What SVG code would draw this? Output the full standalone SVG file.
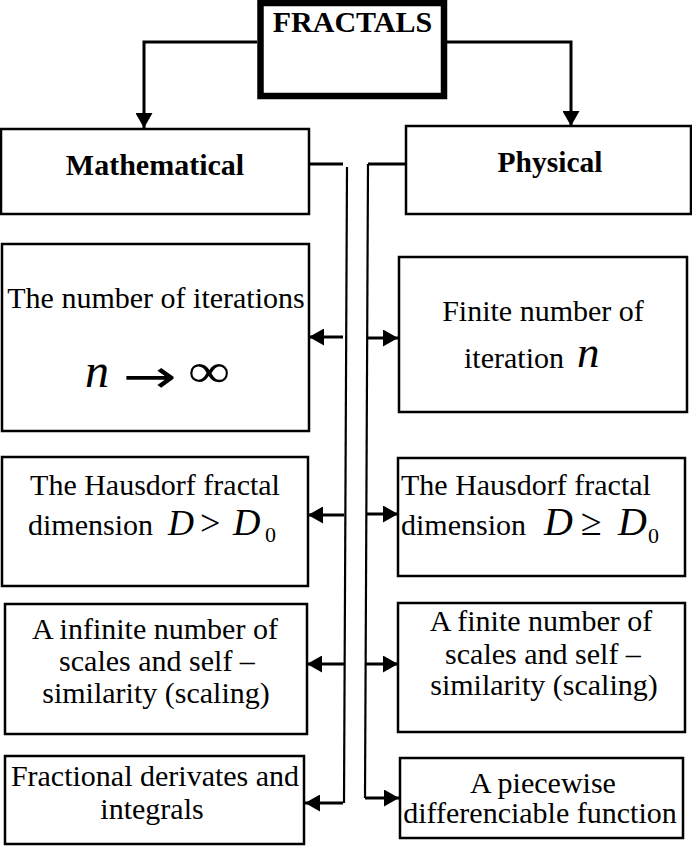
<svg xmlns="http://www.w3.org/2000/svg" width="692" height="846" viewBox="0 0 692 846">
<style>
.box{fill:#fff;stroke:#000;stroke-width:2.5}
.t{font-family:"Liberation Serif","Times New Roman",serif;font-size:30px;fill:#000}
.c{text-anchor:middle}
.b{font-weight:bold}
.i{font-style:italic}
.ln{fill:none;stroke:#000;stroke-width:3}
.vl{fill:none;stroke:#000;stroke-width:2.2}
</style>
<defs>
<marker id="ah" viewBox="0 0 15 17" refX="15" refY="8.5" markerWidth="15" markerHeight="17" markerUnits="userSpaceOnUse" orient="auto">
<path d="M0,0 L15,8.5 L0,17 z" fill="#000"/>
</marker>
</defs>
<rect width="692" height="846" fill="#fff"/>
<g id="connectors">
<path class="ln" d="M257,42 H144 V128" marker-end="url(#ah)"/>
<path class="ln" d="M447,42 H571 V126" marker-end="url(#ah)"/>
<path class="ln" d="M309,164 H343"/>
<path class="vl" d="M347,167 L344,803"/>
<path class="ln" d="M405,164 H368"/>
<path class="vl" d="M368,164 L365,798"/>
<path class="ln" d="M365,798 H399" marker-end="url(#ah)"/>
<path class="ln" d="M343,337 H309" marker-end="url(#ah)"/>
<path class="ln" d="M344,515 H308" marker-end="url(#ah)"/>
<path class="ln" d="M344,664 H307" marker-end="url(#ah)"/>
<path class="ln" d="M343,803 H305" marker-end="url(#ah)"/>
<path class="ln" d="M368,338 H398" marker-end="url(#ah)"/>
<path class="ln" d="M366,514 H398" marker-end="url(#ah)"/>
<path class="ln" d="M366,664 H398" marker-end="url(#ah)"/>
</g>
<g id="fractals">
<rect x="260.5" y="3" width="183.5" height="93" fill="#fff" stroke="#000" stroke-width="6.5"/>
<text class="t c b" x="352.5" y="32" font-size="29">FRACTALS</text>
</g>
<g id="mathematical">
<rect class="box" x="1" y="129" width="308" height="85"/>
<text class="t c b" x="155" y="175">Mathematical</text>
</g>
<g id="physical">
<rect class="box" x="406" y="126" width="285" height="88"/>
<text class="t c b" x="550" y="172" style="font-size:29.5px">Physical</text>
</g>
<g id="m-iterations">
<rect class="box" x="2" y="244" width="307" height="187"/>
<text class="t c" x="156" y="308">The number of iterations</text>
<text class="t i" x="85" y="387" style="font-size:48px">n</text>
<text x="123" y="392" style="font-family:'DejaVu Sans',sans-serif;font-size:46px" textLength="54" lengthAdjust="spacingAndGlyphs">→</text>
<text class="t" x="188" y="387" style="font-size:48px" textLength="42" lengthAdjust="spacingAndGlyphs">∞</text>
</g>
<g id="p-iterations">
<rect class="box" x="399" y="257" width="288" height="155"/>
<text class="t c" x="543" y="321">Finite number of</text>
<text class="t" x="464" y="368">iteration</text>
<text class="t i" x="577" y="367" style="font-size:45px">n</text>
</g>
<g id="m-hausdorf">
<rect class="box" x="2" y="457" width="306" height="129"/>
<text class="t c" x="155" y="495">The Hausdorf fractal</text>
<text class="t" x="28" y="535">dimension</text>
<text class="t i" x="168" y="535" style="font-size:36px">D</text>
<text class="t" x="200" y="535" style="font-size:36px">&gt;</text>
<text class="t i" x="233" y="535" style="font-size:38px">D</text>
<text class="t" x="265" y="542" style="font-size:22px">0</text>
</g>
<g id="p-hausdorf">
<rect class="box" x="398" y="458" width="287" height="118"/>
<text class="t" x="401" y="495">The Hausdorf fractal</text>
<text class="t" x="401" y="535">dimension</text>
<text class="t i" x="544" y="535" style="font-size:40px">D</text>
<text class="t" x="581" y="535" style="font-size:38px">≥</text>
<text class="t i" x="618" y="535" style="font-size:40px">D</text>
<text class="t" x="648" y="543" style="font-size:22px">0</text>
</g>
<g id="m-scales">
<rect class="box" x="5" y="604" width="302" height="130"/>
<text class="t c" x="155" y="639">A infinite number of</text>
<text class="t c" x="157" y="671">scales and self –</text>
<text class="t c" x="156" y="703">similarity (scaling)</text>
</g>
<g id="p-scales">
<rect class="box" x="398" y="603" width="287" height="129"/>
<text class="t c" x="541" y="631">A finite number of</text>
<text class="t c" x="543" y="664">scales and self –</text>
<text class="t c" x="544" y="695">similarity (scaling)</text>
</g>
<g id="m-fractional">
<rect class="box" x="5" y="756" width="299" height="88"/>
<text class="t c" x="155" y="786">Fractional derivates and</text>
<text class="t c" x="152" y="819">integrals</text>
</g>
<g id="p-piecewise">
<rect class="box" x="400" y="758" width="283" height="80"/>
<text class="t c" x="543" y="793">A piecewise</text>
<text class="t c" x="540" y="823">differenciable function</text>
</g>
</svg>
